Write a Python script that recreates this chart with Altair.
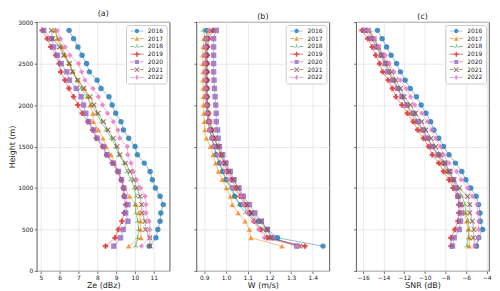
import altair as alt
import pandas as pd

heights = [2900, 2800, 2700, 2600, 2500, 2400, 2300, 2200, 2100, 2000, 1900, 1800, 1700, 1600,
           1500, 1400, 1300, 1200, 1100, 1000, 900, 800, 700, 600, 500, 400, 300]
years = ["2016", "2017", "2018", "2019", "2020", "2021", "2022"]
colors = ["#1f77b4", "#ff7f0e", "#2ca02c", "#d62728", "#9467bd", "#8c564b", "#e377c2"]

TRI = ("M-0.15,0L-0.15,-1L0.15,-1L0.15,0Z"
       "M0.075,-0.13L0.941,0.37L0.791,0.63L-0.075,0.13Z"
       "M-0.075,-0.13L-0.941,0.37L-0.791,0.63L0.075,0.13Z")
XSHAPE = "M-1,-0.7L-0.7,-1L0,-0.3L0.7,-1L1,-0.7L0.3,0L1,0.7L0.7,1L0,0.3L-0.7,1L-1,0.7L-0.3,0Z"
shapes = ["circle", "triangle-up", TRI, "cross", "square", XSHAPE, "diamond"]

# legend symbols: the marker with a short line through it
LEG_LINE = "M-2.6,-0.14L-1,-0.14L-1,0.14L-2.6,0.14ZM1,-0.14L2.6,-0.14L2.6,0.14L1,0.14Z"
legend_markers = [
    "M-0.9,0A0.9,0.9 0 1,0 0.9,0A0.9,0.9 0 1,0 -0.9,0Z",
    "M0,-1L0.95,0.8L-0.95,0.8Z",
    TRI,
    "M-0.3,-1L0.3,-1L0.3,-0.3L1,-0.3L1,0.3L0.3,0.3L0.3,1L-0.3,1L-0.3,0.3L-1,0.3L-1,-0.3L-0.3,-0.3Z",
    "M-0.8,-0.8L0.8,-0.8L0.8,0.8L-0.8,0.8Z",
    XSHAPE,
    "M0,-1L0.75,0L0,1L-0.75,0Z",
]
legend_shapes = [LEG_LINE + m for m in legend_markers]

# (a) Ze (dBz), heights 2900 -> 300
ze_values = {
    "2016": [6.50, 6.74, 6.97, 7.19, 7.43, 7.58, 7.99, 8.20, 8.62, 8.79, 8.98, 9.26, 9.39, 9.67,
             10.01, 10.13, 10.50, 10.81, 10.93, 11.09, 11.34, 11.51, 11.38, 11.34, 11.22, 11.12, 10.76],
    "2017": [5.73, 5.90, 6.13, 6.30, 6.52, 6.69, 6.97, 7.32, 7.51, 7.62, 7.77, 7.79, 8.06, 8.30,
             8.47, 8.74, 8.90, 9.12, 9.29, 9.46, 9.72, 10.06, 10.21, 10.30, 10.30, 10.33, 9.67],
    "2018": [5.77, 5.87, 6.06, 6.25, 6.47, 6.69, 6.90, 7.14, 7.44, 7.68, 7.96, 8.21, 8.47, 8.74,
             8.98, 9.15, 9.41, 9.58, 9.79, 9.97, 10.06, 10.00, 10.05, 10.15, 10.20, 10.15, 10.05],
    "2019": [5.07, 5.34, 5.53, 5.79, 5.97, 6.06, 6.28, 6.49, 6.74, 6.97, 7.20, 7.50, 7.75, 7.95,
             8.28, 8.50, 8.80, 9.08, 9.27, 9.38, 9.42, 9.51, 9.43, 9.31, 9.12, 8.95, 8.44],
    "2020": [5.15, 5.56, 5.68, 5.87, 6.08, 6.38, 6.52, 6.88, 7.14, 7.27, 7.39, 7.55, 7.82, 7.99,
             8.33, 8.52, 8.85, 9.12, 9.29, 9.41, 9.46, 9.63, 9.51, 9.63, 9.38, 9.24, 8.88],
    "2021": [5.56, 5.63, 5.99, 6.21, 6.52, 6.69, 6.97, 7.27, 7.62, 7.82, 8.04, 8.33, 8.57, 8.85,
             9.05, 9.20, 9.50, 9.75, 9.95, 10.10, 10.28, 10.35, 10.38, 10.54, 10.57, 10.79, 10.81],
    "2022": [5.87, 6.04, 6.28, 6.54, 7.00, 7.17, 7.34, 7.77, 8.06, 8.28, 8.54, 8.85, 9.10, 9.19,
             9.60, 9.62, 9.79, 9.92, 10.09, 10.30, 10.54, 10.59, 10.59, 10.76, 10.79, 10.79, 10.35],
}

# (b) W (m/s)
w_values = {
    "2016": [0.910, 0.912, 0.912, 0.912, 0.912, 0.912, 0.912, 0.912, 0.912, 0.913, 0.915, 0.918, 0.925, 0.935,
             0.945, 0.955, 0.970, 0.985, 1.000, 1.030, 1.040, 1.068, 1.110, 1.150, 1.190, 1.237, 1.447],
    "2017": [0.925, 0.898, 0.895, 0.893, 0.893, 0.895, 0.894, 0.895, 0.896, 0.896, 0.898, 0.900, 0.903, 0.910,
             0.928, 0.940, 0.952, 0.965, 0.983, 1.002, 1.020, 1.029, 1.056, 1.088, 1.108, 1.115, 1.258],
    "2018": [0.895, 0.905, 0.905, 0.905, 0.905, 0.905, 0.905, 0.906, 0.907, 0.909, 0.913, 0.918, 0.925, 0.935,
             0.945, 0.955, 0.970, 0.985, 1.000, 1.020, 1.040, 1.060, 1.090, 1.130, 1.170, 1.200, 1.335],
    "2019": [0.940, 0.920, 0.915, 0.913, 0.913, 0.913, 0.913, 0.913, 0.914, 0.915, 0.920, 0.925, 0.935, 0.945,
             0.960, 0.975, 0.990, 1.005, 1.025, 1.045, 1.065, 1.090, 1.110, 1.130, 1.160, 1.190, 1.363],
    "2020": [0.955, 0.943, 0.943, 0.943, 0.943, 0.943, 0.945, 0.947, 0.950, 0.953, 0.955, 0.955, 0.961, 0.964,
             0.970, 0.985, 1.000, 1.020, 1.037, 1.060, 1.080, 1.108, 1.133, 1.163, 1.190, 1.215, 1.326],
    "2021": [0.933, 0.910, 0.908, 0.907, 0.907, 0.908, 0.908, 0.909, 0.910, 0.914, 0.918, 0.925, 0.937, 0.947,
             0.965, 0.980, 0.996, 1.014, 1.034, 1.056, 1.073, 1.096, 1.118, 1.163, 1.190, 1.207, 1.340],
    "2022": [0.922, 0.910, 0.906, 0.904, 0.904, 0.904, 0.904, 0.907, 0.907, 0.910, 0.914, 0.922, 0.925, 0.936,
             0.943, 0.962, 0.980, 0.996, 1.011, 1.029, 1.069, 1.080, 1.100, 1.126, 1.150, 1.177, 1.330],
}

# (c) SNR (dB)
snr_values = {
    "2016": [-14.60, -14.14, -13.71, -13.27, -12.74, -12.37, -11.91, -11.41, -10.82, -10.36, -9.89, -9.43, -9.12, -8.65,
             -8.19, -7.66, -7.04, -6.42, -6.02, -5.55, -5.02, -4.78, -4.65, -4.62, -4.40, -4.78, -4.99],
    "2017": [-15.50, -15.10, -14.70, -14.30, -13.90, -13.50, -13.10, -12.70, -12.20, -11.80, -11.35, -10.85, -10.35, -9.85,
             -9.30, -8.80, -8.35, -7.85, -7.50, -7.00, -6.70, -6.40, -6.15, -5.95, -5.80, -5.65, -5.70],
    "2018": [-15.30, -14.95, -14.54, -14.17, -13.77, -13.40, -12.99, -12.59, -12.22, -11.75, -11.29, -10.76, -10.26, -9.74,
             -9.21, -8.71, -8.28, -7.78, -7.26, -6.79, -6.39, -6.11, -6.02, -5.80, -5.70, -5.80, -5.92],
    "2019": [-16.09, -15.53, -15.10, -14.76, -14.39, -14.08, -13.55, -13.15, -12.80, -12.22, -11.69, -11.13, -10.70, -10.14,
             -9.64, -9.27, -8.65, -8.19, -7.66, -7.26, -6.79, -6.70, -6.70, -6.79, -7.10, -7.47, -7.45],
    "2020": [-15.78, -15.16, -14.70, -14.23, -13.83, -13.60, -13.09, -12.62, -12.22, -11.75, -11.07, -10.67, -10.14, -9.74,
             -9.27, -8.71, -8.09, -7.57, -7.26, -7.00, -6.80, -6.54, -6.48, -6.54, -6.67, -7.16, -7.32],
    "2021": [-15.50, -14.90, -14.50, -14.10, -13.60, -13.20, -12.80, -12.35, -12.00, -11.40, -10.90, -10.30, -9.90, -9.40,
             -8.95, -8.50, -8.03, -7.66, -7.16, -6.64, -5.86, -5.64, -5.64, -5.40, -5.24, -5.30, -5.09],
    "2022": [-15.47, -14.85, -14.48, -13.83, -13.46, -12.99, -12.37, -11.81, -11.38, -10.98, -10.29, -9.74, -9.33, -8.96,
             -8.50, -8.19, -7.66, -6.91, -6.48, -5.86, -5.40, -4.93, -4.87, -4.78, -4.78, -4.78, -5.15],
}

height_ticks = [0, 500, 1000, 1500, 2000, 2500, 3000]
ze_ticks = [5, 6, 7, 8, 9, 10, 11]
w_ticks = [0.9, 1.0, 1.1, 1.2, 1.3, 1.4]
snr_ticks = [-16, -14, -12, -10, -8, -6, -4]


def to_frame(values):
    rows = []
    for y in years:
        for h, v in zip(heights, values[y]):
            rows.append({"year": y, "height": h, "value": v})
    return pd.DataFrame(rows)


def panel(values, title, xtitle, domain, ticks, fmt, first):
    df = to_frame(values)
    legend = alt.Legend(title=None, orient="top-right", offset=3, padding=3,
                        strokeColor="#cccccc", fillColor="white", cornerRadius=2,
                        labelFontSize=6, symbolSize=26, rowPadding=1.8,
                        symbolStrokeWidth=0, symbolOffset=5, labelOffset=8, symbolOpacity=0.8)
    color = alt.Color("year:N", scale=alt.Scale(domain=years, range=colors), legend=legend)
    base = alt.Chart(df, title=alt.Title(title, fontSize=8, fontWeight="normal", offset=1,
                                         color="#222222")).encode(
        x=alt.X("value:Q", scale=alt.Scale(domain=domain, nice=False, zero=False),
                axis=alt.Axis(values=ticks, format=fmt, title=xtitle)),
        y=alt.Y("height:Q", scale=alt.Scale(domain=[0, 3000], nice=False),
                axis=alt.Axis(values=height_ticks, format="d", labels=first,
                              title="Height (m)" if first else None)),
        color=color,
    )
    layers = [base.mark_line(strokeWidth=0.9, opacity=0.55).encode(order="height:Q")]
    for y, shp in zip(years, shapes):
        layers.append(
            base.transform_filter(alt.datum.year == y)
            .mark_point(filled=True, size=30, opacity=0.8, shape=shp)
        )
    layers.append(
        base.mark_point(filled=True, size=30, opacity=0.8).encode(
            shape=alt.Shape("year:N", scale=alt.Scale(domain=years, range=legend_shapes),
                            legend=legend)
        ).transform_filter("false")
    )
    return alt.layer(*layers).properties(width=134, height=251)


pa = panel(ze_values, "(a)", "Ze (dBz)", [4.78, 11.85], ze_ticks, "d", True)
pb = panel(w_values, "(b)", "W (m/s)", [0.864, 1.476], w_ticks, ".1f", False)
pc = panel(snr_values, "(c)", "SNR (dB)", [-16.66, -3.78], snr_ticks, "d", False)

chart = alt.hconcat(pa, pb, pc, spacing=27, bounds="flush").resolve_scale(
    color="independent", shape="independent"
).properties(padding=0).configure(
    font="DejaVu Sans"
).configure_axis(
    labelFontSize=6, titleFontSize=8, labelColor="#222222", titleColor="#222222",
    titleFontWeight="normal", gridColor="#e0e0e0", gridWidth=0.7, domain=False,
    tickColor="#333333", tickSize=2.5, tickWidth=0.7, labelPadding=1.5, titlePadding=1,
    labelFlush=False
).configure_view(
    stroke="#333333", strokeWidth=0.8
).configure_legend(
    labelColor="#222222"
)

chart.save("out.html", embed_options={"renderer": "svg", "actions": False})
